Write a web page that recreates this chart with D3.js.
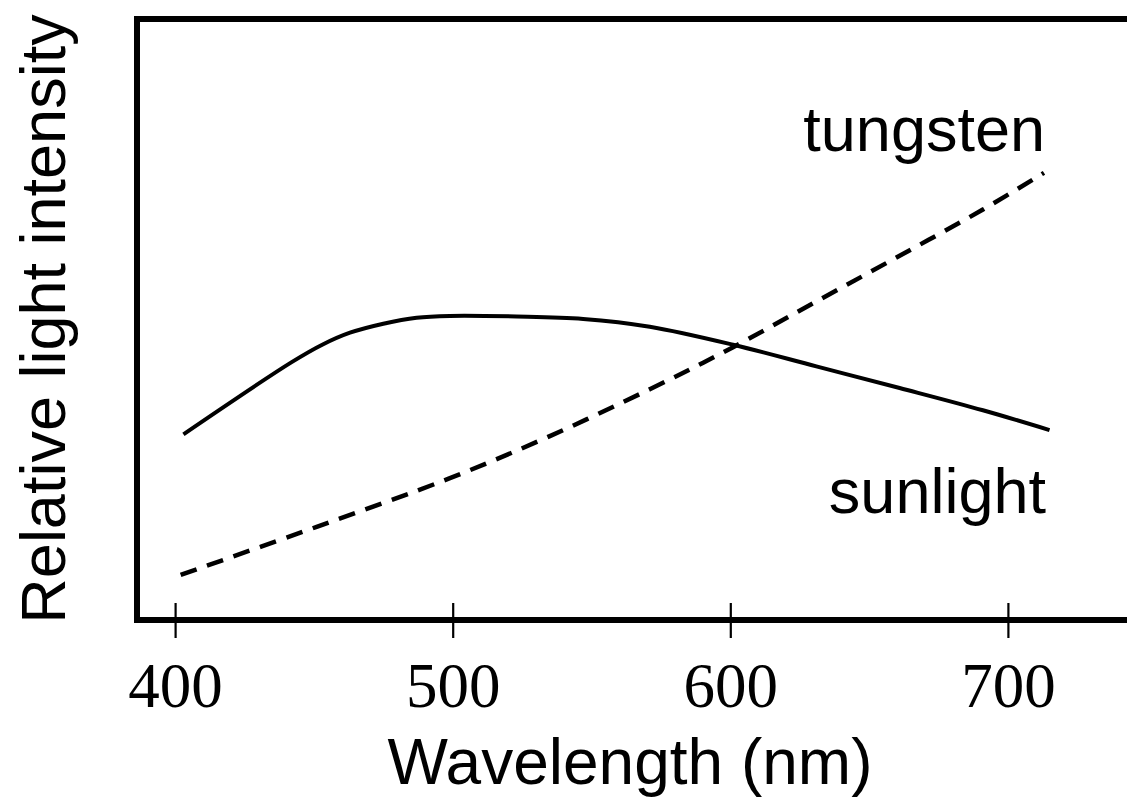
<!DOCTYPE html>
<html>
<head>
<meta charset="utf-8">
<script src="https://cdn.jsdelivr.net/npm/d3@7"></script>
<style>
  html, body { margin: 0; padding: 0; background: #fff; }
  svg { display: block; }
</style>
</head>
<body>
<div class="chart"></div>
<script>
// wavelength ticks (nm)
const xTicks = [400, 500, 600, 700];

// sunlight spectrum (relative units 0..100)
const sunWl = [403, 442, 453, 463, 475, 487, 499, 523, 547, 571, 601, 631, 661, 691, 715];
const sunVal = [30.9, 42.9, 45.8, 47.8, 49.3, 50.3, 50.6, 50.5, 50.1, 48.8, 45.8, 42.2, 38.6, 34.9, 31.6];

// tungsten lamp spectrum
const tungWl = [402, 451, 499, 535, 571, 601, 631, 661, 691, 713];
const tungVal = [7.5, 15.5, 23.6, 30.6, 38.4, 45.4, 53.0, 60.6, 68.3, 74.4];

const width = 1127,
  height = 797,
  frame = { left: 137, top: 19, right: 1140, bottom: 620 },
  sans = '"Liberation Sans", Arial, Helvetica, sans-serif',
  serif = '"Liberation Serif", "Times New Roman", serif';

const svg = d3.select('.chart')
  .append('svg')
  .attr('width', width)
  .attr('height', height);

const x = d3.scaleLinear()
  .domain([400, 700])
  .range([175.1, 1007.9]);

const y = d3.scaleLinear()
  .domain([0, 100])
  .range([frame.bottom, frame.top]);

// box round the plot (right side runs off the page)
svg.append('rect')
  .attr('x', frame.left)
  .attr('y', frame.top)
  .attr('width', frame.right - frame.left)
  .attr('height', frame.bottom - frame.top)
  .attr('fill', 'none')
  .attr('stroke', '#000')
  .attr('stroke-width', 6);

// x axis: ticks cross the bottom edge
const xAxis = svg.append('g')
  .attr('transform', 'translate(0,' + frame.bottom + ')')
  .call(d3.axisBottom(x).tickValues(xTicks).tickSize(18).tickPadding(0).tickFormat(d3.format('d')));

xAxis.select('.domain').remove();
xAxis.selectAll('.tick line')
  .attr('y1', -17)
  .attr('y2', 18)
  .attr('stroke', '#000')
  .attr('stroke-width', 2.2);
xAxis.selectAll('.tick text')
  .attr('y', 87)
  .attr('dy', null)
  .attr('fill', '#000')
  .style('font-family', serif)
  .style('font-size', '63px');

const line = d3.line()
  .x(d => x(d[0]))
  .y(d => y(d[1]))
  .curve(d3.curveCatmullRom.alpha(0.5));

svg.append('path')
  .datum(d3.zip(sunWl, sunVal))
  .attr('d', line)
  .attr('fill', 'none')
  .attr('stroke', '#000')
  .attr('stroke-width', 4);

svg.append('path')
  .datum(d3.zip(tungWl, tungVal))
  .attr('d', line)
  .attr('fill', 'none')
  .attr('stroke', '#000')
  .attr('stroke-width', 4.5)
  .attr('stroke-dasharray', '17,11');

// curve labels
const label = (txt, px, py) => svg.append('text')
  .attr('x', px)
  .attr('y', py)
  .attr('text-anchor', 'end')
  .style('font-family', sans)
  .style('font-size', '63px')
  .text(txt);

label('tungsten', 1045, 151);
label('sunlight', 1046, 513);

// axis titles
svg.append('text')
  .attr('x', 630)
  .attr('y', 784)
  .attr('text-anchor', 'middle')
  .style('font-family', sans)
  .style('font-size', '64px')
  .text('Wavelength (nm)');

svg.append('text')
  .attr('transform', 'translate(65,319) rotate(-90)')
  .attr('text-anchor', 'middle')
  .style('font-family', sans)
  .style('font-size', '63px')
  .text('Relative light intensity');
</script>
</body>
</html>
